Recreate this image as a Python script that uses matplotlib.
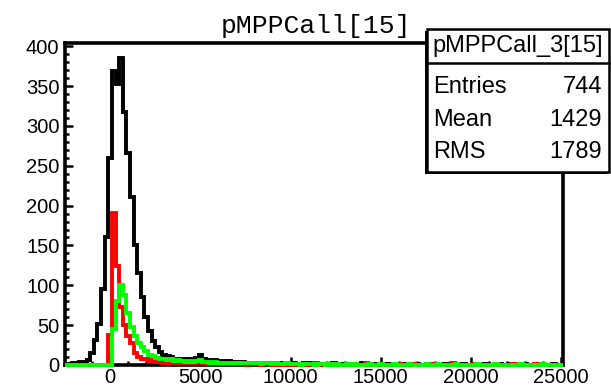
import numpy as np
import matplotlib
matplotlib.use("Agg")
import matplotlib.pyplot as plt
from matplotlib.patches import Rectangle
from matplotlib.ticker import MultipleLocator

# histogram binning: 138 bins of 200 from -2500 to 25100
edges = np.arange(-2500, 25101, 200)

black = [0, 1, 2, 3, 4, 4, 6, 15, 31, 52, 95, 160,
         260, 369, 352, 385, 317, 266, 211, 150, 115, 85,
         60, 43, 30, 22, 16, 12, 11, 10, 8, 8,
         7, 7, 6, 7, 9, 12, 8, 6, 5, 6,
         5, 5, 4, 5, 4, 4, 3, 4, 3, 3,
         3,
         2, 3, 2, 2, 3, 2, 1, 2, 2, 1,
         2, 1, 1, 2, 1, 2, 1, 1, 0, 1,
         1, 2, 1, 0, 1, 1, 1, 0, 1, 2,
         0, 1, 1, 0, 1, 0, 1, 1, 0, 1,
         0, 1, 0, 1, 1, 0, 0, 1, 0, 1,
         0, 0, 1, 0, 1, 0, 0, 1, 0, 0,
         1, 0, 0, 1, 0, 0, 0, 1, 0, 0,
         1, 0, 0, 0, 1, 0, 0, 0, 1, 0,
         0, 0, 1, 0, 0]

red = [0, 0, 0, 0, 0, 0, 0, 0, 0, 0, 0, 0,
       38, 191, 124, 73, 50, 36, 27, 15, 10, 8,
       7, 5, 6, 4, 5, 3, 4, 3, 3, 2,
       3, 2, 2, 3, 2, 2, 2, 1, 2, 1,
       2,
       1, 2, 1, 1, 2, 1, 1, 0, 1, 1,
       1, 0, 1, 1, 0, 1, 0, 1, 0, 0,
       1, 0, 0, 1, 0, 0, 2, 0, 0, 1,
       0, 0, 1, 0, 0, 0, 1, 0, 0, 0,
       2, 0, 0, 0, 1, 0, 0, 0, 0, 1,
       0, 0, 0, 1, 0, 0, 0, 0, 1, 0,
       0, 0, 0, 0, 2, 0, 0, 0, 0, 0,
       1, 0, 0, 0, 0, 0, 1, 0, 0, 0,
       0, 1, 0, 0, 0, 0, 0, 1, 0, 0,
       0, 0, 0, 0, 0]

green = [0, 0, 0, 0, 0, 0, 0, 0, 0, 0, 0, 0, 0,
         45, 80, 100, 88, 65, 48, 36, 27, 22, 17,
         13, 11, 9, 7, 8, 6, 7, 5, 6, 5,
         4, 5, 4, 5, 6, 4, 4, 3, 4, 3,
         3, 3, 2, 3, 2, 2, 3, 2, 2, 2,
         2, 1, 2, 2, 1, 2, 1, 1, 2, 1,
         1, 1, 0, 1, 1, 1, 0, 1, 1, 0,
         1, 0, 1, 0, 0, 1, 0, 1, 0, 0,
         0, 1, 0, 0, 1, 0, 0, 0, 1, 0,
         0, 0, 1, 0, 0, 0, 0, 1, 0, 0,
         1, 0, 0, 0, 0, 1, 0, 0, 0, 0,
         0, 1, 0, 0, 0, 0, 1, 0, 0, 0,
         0, 0, 0, 1, 0, 0, 0, 0, 0, 1,
         0, 0, 0, 0, 0]

title = "pMPPCall[15]"
stats_name = "pMPPCall_3[15]"
stats_rows = [("Entries", "744"), ("Mean", "1429"), ("RMS", "1789")]

W, H = 611, 388
SANS = "Liberation Sans"

fig = plt.figure(figsize=(W / 100, H / 100), dpi=100)
fig.patch.set_facecolor("white")
ax = fig.add_axes([65 / W, 1 - 365 / H, (563 - 65) / W, (365 - 43) / H])

for vals, col in [(black, "black"), (red, "#ff0000"), (green, "#00ff00")]:
    ax.stairs(vals, edges, color=col, lw=2.8, clip_on=False, zorder=3)

ax.set_xlim(-2500, 25100)
ax.set_ylim(0, 404)

for s in ax.spines.values():
    s.set_linewidth(2.6)
ax.xaxis.set_major_locator(MultipleLocator(5000))
ax.xaxis.set_minor_locator(MultipleLocator(1000))
ax.yaxis.set_major_locator(MultipleLocator(50))
ax.yaxis.set_minor_locator(MultipleLocator(10))
ax.tick_params(which="both", direction="in", top=False, right=False, width=1.8)
ax.tick_params(which="major", length=6)
ax.tick_params(which="minor", length=3)
ax.tick_params(axis="x", which="major", pad=2)
ax.tick_params(axis="y", which="major", pad=4)
for lab in ax.get_xticklabels() + ax.get_yticklabels():
    lab.set_family(SANS)
    lab.set_fontsize(14.5)

fig.text(316 / W, 1 - 33 / H, title, family="Liberation Mono", fontsize=19,
         ha="center", va="baseline")

# stats box
x0, x1, y0, y1 = 427, 609, 29, 172
fig.add_artist(Rectangle((x0 / W - 2 / W, 1 - y1 / H - 2 / H), (x1 - x0) / W, (y1 - y0) / H,
                         transform=fig.transFigure, facecolor="black", edgecolor="black", lw=0))
fig.add_artist(Rectangle((x0 / W, 1 - y1 / H), (x1 - x0) / W, (y1 - y0) / H,
                         transform=fig.transFigure, facecolor="white", edgecolor="black", lw=1.8))
fig.add_artist(plt.Line2D([x0 / W, x1 / W], [1 - 63 / H, 1 - 63 / H],
                          transform=fig.transFigure, color="black", lw=1.8))
fig.text((x0 + x1) / 2 / W, 1 - 46 / H, stats_name, family=SANS, fontsize=17,
         ha="center", va="center")
for i, (k, v) in enumerate(stats_rows):
    yy = 1 - (87 + i * 32.5) / H
    fig.text(433 / W, yy, k, family=SANS, fontsize=17, ha="left", va="center")
    fig.text(602 / W, yy, v, family=SANS, fontsize=17, ha="right", va="center")

fig.savefig("out.png", dpi=100)
